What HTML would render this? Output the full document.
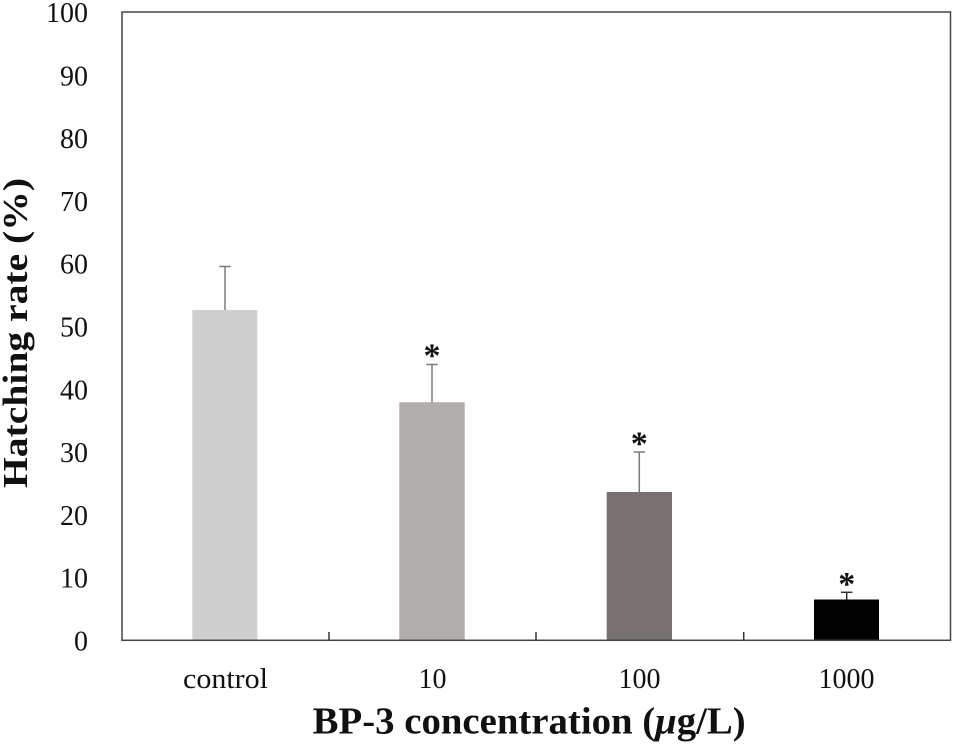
<!DOCTYPE html>
<html>
<head>
<meta charset="utf-8">
<style>
  html, body { margin:0; padding:0; background:#fff; }
  svg { display:block; }
  text { font-family: "Liberation Serif", "DejaVu Serif", serif; fill:#111; }
</style>
</head>
<body>
<svg width="954" height="745" viewBox="0 0 954 745" xmlns="http://www.w3.org/2000/svg">
  <rect x="0" y="0" width="954" height="745" fill="#fff"/>

  <!-- bars -->
  <rect x="192.3" y="310" width="65" height="330" fill="#d0cfd0"/>
  <rect x="399.3" y="402.3" width="65.4" height="237.7" fill="#b0adab"/>
  <rect x="606.7" y="492" width="65.3" height="148" fill="#767170"/>
  <rect x="814" y="599.5" width="65" height="40.5" fill="#000"/>

  <!-- error bars -->
  <g stroke="#7a7a7a" stroke-width="1.5" fill="none">
    <line x1="225" y1="310" x2="225" y2="266.5"/>
    <line x1="219.3" y1="266.5" x2="230.7" y2="266.5"/>
    <line x1="432" y1="402.3" x2="432" y2="364.5"/>
    <line x1="426.3" y1="364.5" x2="437.7" y2="364.5"/>
    <line x1="639.3" y1="492" x2="639.3" y2="452"/>
    <line x1="633.6" y1="452" x2="645" y2="452"/>
  </g>
  <g stroke="#333" stroke-width="1.5" fill="none">
    <line x1="846.7" y1="599.5" x2="846.7" y2="592.3"/>
    <line x1="841" y1="592.3" x2="852.4" y2="592.3"/>
  </g>

  <!-- asterisks -->
  <g font-size="34" font-weight="bold" text-anchor="middle">
    <text x="432" y="366.5">*</text>
    <text x="639.3" y="454.5">*</text>
    <text x="846.7" y="594.8">*</text>
  </g>

  <!-- plot frame -->
  <rect x="122" y="12" width="828.5" height="628.3" fill="none" stroke="#444" stroke-width="1.5"/>
  <!-- category ticks -->
  <g stroke="#333" stroke-width="1.5">
    <line x1="329" y1="632" x2="329" y2="640.3"/>
    <line x1="536" y1="632" x2="536" y2="640.3"/>
    <line x1="743.7" y1="632" x2="743.7" y2="640.3"/>
  </g>

  <!-- y tick labels -->
  <g font-size="28" text-anchor="end">
    <text x="88" y="650.5">0</text>
    <text x="88" y="587.7">10</text>
    <text x="88" y="524.9">20</text>
    <text x="88" y="462.1">30</text>
    <text x="88" y="399.3">40</text>
    <text x="88" y="336.5">50</text>
    <text x="88" y="273.7">60</text>
    <text x="88" y="210.9">70</text>
    <text x="88" y="148.1">80</text>
    <text x="88" y="85.3">90</text>
    <text x="88" y="22.2">100</text>
  </g>

  <!-- x tick labels -->
  <g font-size="28" text-anchor="middle">
    <text x="225.5" y="688" textLength="85" lengthAdjust="spacingAndGlyphs">control</text>
    <text x="432.5" y="688">10</text>
    <text x="639.5" y="688">100</text>
    <text x="846.5" y="688">1000</text>
  </g>

  <!-- axis titles -->
  <text x="312.7" y="733.3" font-size="38" font-weight="bold" textLength="433" lengthAdjust="spacingAndGlyphs">BP-3 concentration (<tspan font-style="italic">μ</tspan>g/L)</text>
  <text transform="translate(27,488) rotate(-90)" x="0" y="0" font-size="35" font-weight="bold" textLength="310" lengthAdjust="spacingAndGlyphs">Hatching rate (%)</text>
</svg>
</body>
</html>
